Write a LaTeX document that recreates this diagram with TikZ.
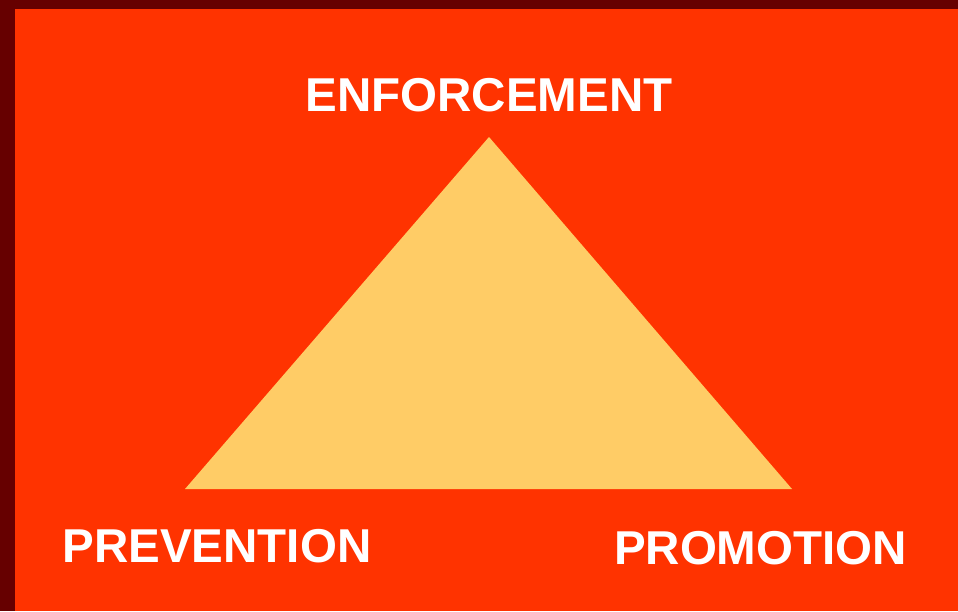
\documentclass[tikz,border=0pt]{standalone}
\usepackage{fontspec}
\setmainfont{Liberation Sans}
\usepackage{xcolor}
\usetikzlibrary{positioning}
\definecolor{frame}{HTML}{660000}
\definecolor{ground}{HTML}{FF3300}
\definecolor{wedge}{HTML}{FFCC66}
\tikzset{
  pillar/.style={text=white,inner sep=0pt,font=\fontsize{47.5}{50}\selectfont\bfseries},
  panel/.style={fill=ground,draw=none}
}

\begin{document}
\begin{tikzpicture}[x=1pt,y=-1pt]
      
      \fill[frame] (0,0) rectangle (958,611);
      \fill[panel] (15,9) rectangle (958,611);
      \useasboundingbox (0,0) rectangle (958,611);
      
      \coordinate (apex) at (489,137);
      \coordinate (left) at (185,489);
      \coordinate (right) at (792,489);
      \fill[wedge] (apex) -- (left) -- (right) -- cycle;
      
      \node[pillar] (enforce) [above=25pt of apex] {ENFORCEMENT};
      \node[pillar] (prevent) [below=40pt of left,xshift=32pt] {PREVENTION};
      \node[pillar] (promote) [below=42pt of right,xshift=-31.5pt] {PROMOTION};
    \end{tikzpicture}
\end{document}
